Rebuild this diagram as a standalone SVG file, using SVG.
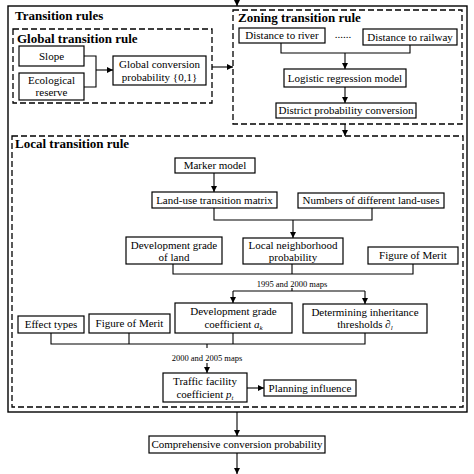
<svg xmlns="http://www.w3.org/2000/svg" width="474" height="474" viewBox="0 0 474 474">
<defs>
<marker id="ah" viewBox="0 0 10 10" refX="10" refY="5" markerWidth="6" markerHeight="6" markerUnits="userSpaceOnUse" orient="auto">
<path d="M0,0 L10,5 L0,10 z" fill="#000"/>
</marker>
<style>
.box{fill:#fff;stroke:#000;stroke-width:1.2}
.dash{fill:none;stroke:#000;stroke-width:1.3;stroke-dasharray:6,3}
.solid{fill:none;stroke:#000;stroke-width:1.4}
.ln{fill:none;stroke:#000;stroke-width:1.1}
.ar{fill:none;stroke:#000;stroke-width:1.1;marker-end:url(#ah)}
text{font-family:"Liberation Serif","Times New Roman",serif;fill:#000}
.t{font-size:11px;text-anchor:middle}
.h{font-size:13px;font-weight:bold}
.s{font-size:8.5px;text-anchor:middle}
</style>
</defs>
<rect width="474" height="474" fill="#fff"/>

<g id="frames">
<rect class="solid" x="8" y="6" width="459" height="406"/>
<text class="h" x="15" y="20">Transition rules</text>
<rect class="dash" x="13" y="29" width="199" height="74"/>
<text class="h" x="17" y="43">Global transition rule</text>
<rect class="dash" x="233" y="10" width="229" height="114"/>
<text class="h" x="238" y="22">Zoning transition rule</text>
<rect class="dash" x="12" y="136" width="451" height="271"/>
<text class="h" x="15" y="148">Local transition rule</text>
</g>

<g id="connectors">
<path class="ar" d="M237,0 V6"/>
<path class="ln" d="M84,56 H96 V87 H84"/>
<path class="ar" d="M96,70 H113"/>
<path class="ar" d="M212,67 H233"/>
<path class="ln" d="M281,43 V53 H410 V45"/>
<path class="ar" d="M345,53 V69"/>
<path class="ar" d="M345,87 V103"/>
<path class="ar" d="M345,124 V136"/>
<path class="ar" d="M214,173 V192"/>
<path class="ln" d="M214,208 V220 H372 V208"/>
<path class="ar" d="M293,220 V238"/>
<path class="ln" d="M173,264 V274 H413 V264"/>
<path class="ln" d="M292,264 V274"/>
<path class="ln" d="M292,288 V291"/>
<path class="ln" d="M233,291 H365"/>
<path class="ar" d="M233,291 V303"/>
<path class="ar" d="M365,291 V304"/>
<path class="ln" d="M51,333 V344 H365 V333"/>
<path class="ln" d="M129,333 V344"/>
<path class="ln" d="M233,333 V344"/>
<path class="ln" d="M207,344 V348"/>
<path class="ar" d="M207,363 V373"/>
<path class="ar" d="M247,388 H264"/>
<path class="ar" d="M237,412 V436"/>
<path class="ar" d="M237,453 V474"/>
</g>

<g id="slope">
<rect class="box" x="19" y="46" width="65" height="20"/>
<text class="t" x="51.5" y="60">Slope</text>
</g>
<g id="ecological-reserve">
<rect class="box" x="19" y="73" width="65" height="27"/>
<text class="t" x="51.5" y="84">Ecological</text>
<text class="t" x="51.5" y="96">reserve</text>
</g>
<g id="global-conversion">
<rect class="box" x="113" y="56" width="93" height="29"/>
<text class="t" x="159.5" y="68">Global conversion</text>
<text class="t" x="159.5" y="81">probability {0,1}</text>
</g>

<g id="distance-river">
<rect class="box" x="239" y="28" width="86" height="15"/>
<text class="t" x="282" y="39">Distance to river</text>
</g>
<g id="dots">
<text class="t" x="343" y="38">......</text>
</g>
<g id="distance-railway">
<rect class="box" x="363" y="29" width="94" height="16"/>
<text class="t" x="410" y="41">Distance to railway</text>
</g>
<g id="logistic">
<rect class="box" x="284" y="69" width="122" height="18"/>
<text class="t" x="345" y="82">Logistic regression model</text>
</g>
<g id="district">
<rect class="box" x="276" y="103" width="140" height="15"/>
<text class="t" x="346" y="114">District probability conversion</text>
</g>

<g id="marker-model">
<rect class="box" x="175" y="158" width="80" height="15"/>
<text class="t" x="215" y="169">Marker model</text>
</g>
<g id="land-use-matrix">
<rect class="box" x="152" y="192" width="125" height="16"/>
<text class="t" x="214.5" y="204">Land-use transition matrix</text>
</g>
<g id="numbers-land-uses">
<rect class="box" x="298" y="193" width="146" height="15"/>
<text class="t" x="371" y="204">Numbers of different land-uses</text>
</g>
<g id="dev-grade-land">
<rect class="box" x="126" y="237" width="96" height="27"/>
<text class="t" x="174" y="249">Development grade</text>
<text class="t" x="174" y="261">of land</text>
</g>
<g id="local-neighborhood">
<rect class="box" x="243" y="238" width="100" height="26"/>
<text class="t" x="293" y="249">Local neighborhood</text>
<text class="t" x="293" y="261">probability</text>
</g>
<g id="figure-merit-1">
<rect class="box" x="368" y="247" width="90" height="17"/>
<text class="t" x="413" y="259">Figure of Merit</text>
</g>
<g id="label-1995">
<text class="s" x="292" y="287">1995 and 2000 maps</text>
</g>
<g id="dev-grade-coef">
<rect class="box" x="175" y="303" width="117" height="30"/>
<text class="t" x="233.5" y="315">Development grade</text>
<text class="t" x="233.5" y="328">coefficient <tspan font-style="italic">a</tspan><tspan font-style="italic" font-size="7" dy="2">k</tspan></text>
</g>
<g id="inheritance-thresholds">
<rect class="box" x="303" y="304" width="124" height="29"/>
<text class="t" x="365" y="316">Determining inheritance</text>
<text class="t" x="365" y="328">thresholds <tspan font-style="italic">∂</tspan><tspan font-style="italic" font-size="7" dy="2">l</tspan></text>
</g>
<g id="effect-types">
<rect class="box" x="18" y="316" width="66" height="17"/>
<text class="t" x="51" y="328">Effect types</text>
</g>
<g id="figure-merit-2">
<rect class="box" x="89" y="314" width="81" height="19"/>
<text class="t" x="129.5" y="327">Figure of Merit</text>
</g>
<g id="label-2000">
<text class="s" x="207" y="361">2000 and 2005 maps</text>
</g>
<g id="traffic-facility">
<rect class="box" x="163" y="373" width="84" height="29"/>
<text class="t" x="205" y="385">Traffic facility</text>
<text class="t" x="205" y="398">coefficient <tspan font-style="italic">p</tspan><tspan font-style="italic" font-size="7" dy="2">t</tspan></text>
</g>
<g id="planning-influence">
<rect class="box" x="264" y="380" width="92" height="16"/>
<text class="t" x="310" y="392">Planning influence</text>
</g>
<g id="comprehensive">
<rect class="box" x="149" y="436" width="176" height="17"/>
<text class="t" x="237" y="448">Comprehensive conversion probability</text>
</g>
</svg>
